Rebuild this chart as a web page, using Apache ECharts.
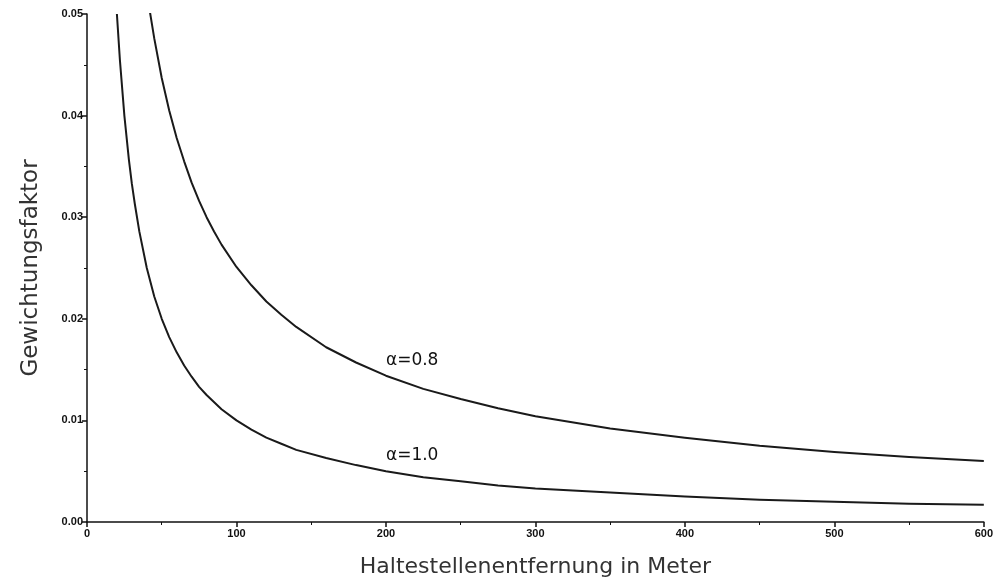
<!DOCTYPE html>
<html>
<head>
<meta charset="utf-8">
<script src="https://cdn.jsdelivr.net/npm/echarts@6/dist/echarts.min.js"></script>
<style>
html,body{margin:0;padding:0;background:#fff;}
#c{width:996px;height:585px;}
</style>
</head>
<body>
<div id="c"></div>
<script>
// Distances (m) and weighting factors
var xA10 = [20, 22, 25, 28, 30, 32, 35, 40, 45, 50, 55, 60, 65, 70, 75, 80, 90, 100, 110, 120, 130, 140, 160, 180, 200, 225, 250, 275, 300, 350, 400, 450, 500, 550, 600];
var yA10 = [0.050, 0.0455, 0.040, 0.0357, 0.0333, 0.0313, 0.0286, 0.025, 0.0222, 0.020, 0.0182, 0.0167, 0.0154, 0.0143, 0.0133, 0.0125, 0.0111, 0.0100, 0.0091, 0.0083, 0.0077, 0.0071, 0.0063, 0.0056, 0.0050, 0.0044, 0.0040, 0.0036, 0.0033, 0.0029, 0.0025, 0.0022, 0.0020, 0.0018, 0.0017];
var xA08 = [42, 45, 50, 55, 60, 65, 70, 75, 80, 85, 90, 100, 110, 120, 130, 140, 160, 180, 200, 225, 250, 275, 300, 350, 400, 450, 500, 550, 600];
var yA08 = [0.0503, 0.0476, 0.0437, 0.0405, 0.0378, 0.0355, 0.0334, 0.0316, 0.0300, 0.0286, 0.0273, 0.0251, 0.0233, 0.0217, 0.0204, 0.0192, 0.0172, 0.0157, 0.0144, 0.0131, 0.0121, 0.0112, 0.0104, 0.0092, 0.0083, 0.0075, 0.0069, 0.0064, 0.0060];
var xTicks = [0, 100, 200, 300, 400, 500, 600];
var yTicks = [0.00, 0.01, 0.02, 0.03, 0.04, 0.05];
var curveLabels = ['α=0.8', 'α=1.0'];
var labelPos = [[200, 0.0159], [200, 0.0065]];

function pairs(xs, ys){ return xs.map(function(x,i){ return [x, ys[i]]; }); }

var chart = echarts.init(document.getElementById('c'), null, {renderer:'canvas'});
var tickFont = {fontFamily:'Liberation Sans, Arial, sans-serif', fontWeight:'bold', fontSize:11, color:'#111'};
var curveLabelStyle = {fontFamily:'DejaVu Sans, sans-serif', fontSize:17, color:'#111'};
chart.setOption({
  animation:false,
  backgroundColor:'#fff',
  grid:{left:87, right:9, top:14, bottom:63, containLabel:false},
  xAxis:{
    type:'value', min:xTicks[0], max:xTicks[xTicks.length-1], interval:100,
    name:'Haltestellenentfernung in Meter', nameLocation:'middle', nameGap:34,
    nameTextStyle:{fontFamily:'DejaVu Sans, sans-serif', fontSize:22, color:'#333'},
    axisLine:{show:true, onZero:false, lineStyle:{color:'#111', width:1.5}},
    axisTick:{show:true, inside:false, length:5, lineStyle:{color:'#111', width:1.5}},
    minorTick:{show:true, splitNumber:2, length:3, lineStyle:{color:'#111', width:1}},
    splitLine:{show:false},
    axisLabel:Object.assign({margin:6, formatter:function(v){return String(v);}}, tickFont)
  },
  yAxis:{
    type:'value', min:yTicks[0], max:yTicks[yTicks.length-1], interval:0.01,
    name:'Gewichtungsfaktor', nameLocation:'middle', nameGap:44, nameRotate:90,
    nameTextStyle:{fontFamily:'DejaVu Sans, sans-serif', fontSize:23, color:'#333'},
    axisLine:{show:true, onZero:false, lineStyle:{color:'#111', width:1.5}},
    axisTick:{show:true, inside:false, length:5, lineStyle:{color:'#111', width:1.5}},
    minorTick:{show:true, splitNumber:2, length:3, lineStyle:{color:'#111', width:1}},
    splitLine:{show:false},
    axisLabel:Object.assign({margin:4, formatter:function(v){return v.toFixed(2);}}, tickFont)
  },
  series:[
    {
      type:'line', name:curveLabels[0], data:pairs(xA08, yA08), smooth:false,
      showSymbol:false, clip:true,
      lineStyle:{color:'#1a1a1a', width:2, join:'round'},
      markPoint:{symbol:'circle', symbolSize:0, silent:true,
        label:Object.assign({show:true, position:'right', distance:0, formatter:curveLabels[0]}, curveLabelStyle),
        data:[{coord:labelPos[0]}]}
    },
    {
      type:'line', name:curveLabels[1], data:pairs(xA10, yA10), smooth:false,
      showSymbol:false, clip:true,
      lineStyle:{color:'#1a1a1a', width:2, join:'round'},
      markPoint:{symbol:'circle', symbolSize:0, silent:true,
        label:Object.assign({show:true, position:'right', distance:0, formatter:curveLabels[1]}, curveLabelStyle),
        data:[{coord:labelPos[1]}]}
    }
  ]
});
</script>
</body>
</html>
